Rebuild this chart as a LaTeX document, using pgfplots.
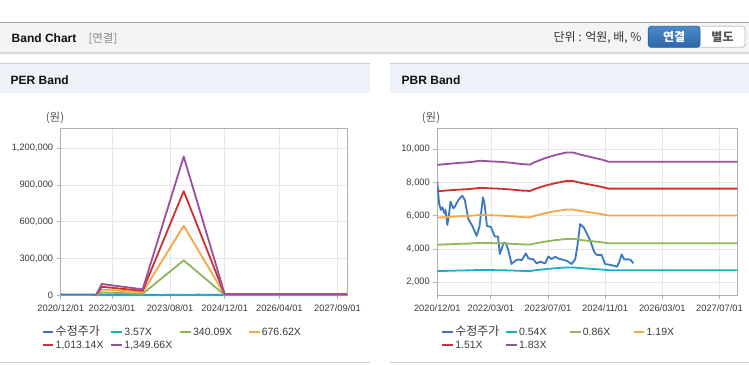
\documentclass[border=0pt]{standalone}
\usepackage{pgfplots}
\pgfplotsset{compat=1.18}
\usepackage{pgfplotstable}
\usepackage{fontspec}
\setmainfont{Liberation Sans}
\newfontfamily\kr{Noto Sans CJK KR}
\definecolor{cPrice}{HTML}{3A78C6}
\definecolor{cA}{HTML}{1CB0C8}
\definecolor{cB}{HTML}{8FB657}
\definecolor{cC}{HTML}{F2A843}
\definecolor{cD}{HTML}{CE3030}
\definecolor{cE}{HTML}{9A509E}
\definecolor{axisgray}{HTML}{B0B0B0}
\definecolor{gridgray}{HTML}{E6E6E6}
\definecolor{labelgray}{HTML}{3A3A3A}
\definecolor{headbg}{HTML}{F4F4F4}
\definecolor{titlebg}{HTML}{EEF2F8}
\definecolor{linegray}{HTML}{CFCFCF}
\definecolor{topline}{HTML}{A8A8A8}
\definecolor{btnTop}{HTML}{4D8AC8}
\definecolor{btnBot}{HTML}{2C68AA}
\definecolor{btnBorder}{HTML}{2A5F9C}
\definecolor{shadeA}{HTML}{F2F2F2}
\definecolor{shadeB}{HTML}{E6E6E6}
\definecolor{shadeC}{HTML}{D0D0D0}
\definecolor{dark}{HTML}{111111}
\definecolor{midgray}{HTML}{888888}
\definecolor{txtgray}{HTML}{333333}
\definecolor{btngray}{HTML}{C0C0C0}
\definecolor{btntext}{HTML}{555555}

\pgfplotstableread{
m v
0 8055
0.5 6750
1 6350
1.4 6510
2 6150
2.3 6350
2.8 5450
3.2 5950
3.7 6850
4.5 6450
4.9 6550
5.9 6950
7.0 7210
7.7 6950
8.7 5800
9.8 5400
11.0 4790
11.8 5350
12.8 7110
13.2 6750
13.9 5390
15.0 5330
16.1 4750
17.0 4750
17.5 3700
18.6 4380
19.2 4350
19.9 3920
20.8 3100
21.8 3300
22.7 3380
23.6 3320
24.8 3740
25.5 3440
26.9 3380
27.8 3140
28.8 3240
30.2 3140
31.1 3560
32.0 3400
33.0 3540
34.0 3420
34.8 3380
36.2 3300
37.6 3100
38.6 3380
39.2 4150
40.0 5500
41.0 5300
42.7 4580
43.9 3850
44.6 3650
46.0 3650
47.0 3100
48.6 3040
50.3 2940
51.0 3240
51.6 3680
52.3 3380
53.5 3380
54.2 3340
54.9 3140
}\pricetable

\pgfplotstableread{
m ca cb cc cd ce
10.5 26 2520 5014 7507 10000
12 245 23300 46350 69400 92450
24 130 12345 24560 36780 49000
36 2994 285200 567500 849700 1132000
48 26 2520 5014 7507 10000
83.8 26 2520 5014 7507 10000
}\perbands

\pgfplotstableread{
m ca cb cc cd ce
0 2674 4258 5892 7476 9060
3 2691 4286 5931 7526 9120
6 2709 4314 5969 7574 9180
9 2721 4333 5995 7607 9220
12 2747 4375 6054 7681 9310
15 2736 4357 6029 7650 9270
18 2726 4342 6008 7624 9240
21 2709 4314 5969 7574 9180
24 2685 4277 5918 7509 9100
26 2679 4267 5905 7493 9080
27 2715 4323 5982 7591 9200
30 2789 4441 6145 7798 9450
33 2847 4535 6275 7962 9650
36 2892 4605 6372 8086 9800
38 2895 4610 6380 8095 9810
40 2857 4549 6295 7988 9680
43 2812 4479 6198 7864 9530
46 2768 4408 6100 7740 9380
48 2730 4347 6015 7633 9250
84 2730 4347 6015 7633 9250
}\pbrbands

\pgfplotsset{
  band/.style={
    scale only axis, anchor=south west, height=167pt,
    axis line style={draw=axisgray, line width=0.8pt},
    grid=major, grid style={draw=gridgray, line width=0.6pt},
    major tick style={draw=axisgray, line width=0.8pt},
    tick align=outside, major tick length=4pt, tick pos=left,
    ticklabel style={font=\fontsize{9.3}{11}\selectfont, text=labelgray},
    xticklabel style={yshift=-1.5pt},
    /pgf/number format/assume math mode=true,
    /pgf/number format/fixed, /pgf/number format/1000 sep={,},
    scaled y ticks=false,
    xmin=0,
    every axis plot/.append style={line width=1.8pt, line join=round, no markers},
    legend columns=4,
    legend cell align=left,
    legend image code/.code={\draw[##1, line width=2pt] (0pt,0pt) -- (10.7pt,0pt);},
    legend style={draw=none, fill=none, inner sep=0pt, outer sep=0pt, anchor=north west,
      font=\fontsize{10.5}{12}\selectfont,
      cells={anchor=west},
      nodes={inner sep=0pt, text height=9pt, text depth=2pt, text=labelgray},
      row sep=2.3pt,
      /tikz/every odd column/.append style={column sep=1.3pt},
      /tikz/every even column/.append style={column sep=0pt}},
  }
}

\begin{document}
\begin{tikzpicture}
\begin{scope}[x=1pt,y=1pt]
\path[use as bounding box] (0,0) rectangle (749,364);
\fill[white] (0,0) rectangle (749,364);
% header bar
\fill[headbg] (0,311.3) rectangle (749,341.7);
\draw[topline, line width=1pt] (0,341.7) -- (749,341.7);
\draw[shadeA, line width=1pt] (0,309.3) -- (749,309.3);
\draw[shadeB, line width=1pt] (0,310.3) -- (749,310.3);
\draw[shadeC, line width=0.8pt] (0,311.3) -- (749,311.3);
\node[anchor=west, inner sep=0pt, font=\bfseries\fontsize{12}{14}\selectfont, text=dark] at (11.5,325.7) {Band Chart};
\node[anchor=west, inner sep=0pt, font=\kr\fontsize{11.5}{13}\selectfont, text=midgray] at (88.3,325.7) {[연결]};
\node[anchor=east, inner sep=0pt, font=\kr\fontsize{12}{14}\selectfont, text=txtgray] at (641.7,326.2) {단위 : 억원, 배, \%};
% buttons
\draw[fill=white, draw=btngray, line width=0.8pt, rounded corners=3pt] (690,316.7) rectangle (745,337.7);
\shade[top color=btnTop, bottom color=btnBot, draw=btnBorder, line width=0.8pt, rounded corners=3pt] (648.3,316.7) rectangle (700,337.7);
\node[inner sep=0pt, font=\kr\bfseries\fontsize{12}{14}\selectfont, text=white] at (674.2,327.2) {연결};
\node[inner sep=0pt, font=\kr\bfseries\fontsize{12}{14}\selectfont, text=btntext] at (722.5,327.2) {별도};
% panels
\fill[titlebg] (0,271.3) rectangle (370,300.7);
\fill[titlebg] (390,271.3) rectangle (749,300.7);
\draw[linegray, line width=1pt] (0,300.7) -- (370,300.7);
\draw[linegray, line width=1pt] (390,300.7) -- (749,300.7);
\draw[linegray, line width=1pt] (0,1.3) -- (370,1.3);
\draw[linegray, line width=1pt] (390,1.3) -- (749,1.3);
\node[anchor=west, inner sep=0pt, font=\bfseries\fontsize{12}{14}\selectfont, text=dark] at (10.5,283.3) {PER Band};
\node[anchor=west, inner sep=0pt, font=\bfseries\fontsize{12}{14}\selectfont, text=dark] at (401.5,283.3) {PBR Band};
\node[inner sep=0pt, font=\kr\fontsize{11.5}{13}\selectfont, text=btntext] at (55,245.7) {(원)};
\node[inner sep=0pt, font=\kr\fontsize{11.5}{13}\selectfont, text=btntext] at (431,245.7) {(원)};
\end{scope}

% PER axis
\begin{axis}[band, at={(60.7pt,68.7pt)}, width=286.3pt, xmax=83.8, ymin=0, ymax=1363000,
  xtick={0,15,32,48,64,81},
  xticklabels={2020/12/01,2022/03/01,2023/08/01,2024/12/01,2026/04/01,2027/09/01},
  ytick={0,300000,600000,900000,1200000},
  legend style={at={(-0.0663,-0.185)}},
  clip=false]
\addplot[cPrice] table[x=m,y=v]{\pricetable};
\addlegendentry{\makebox[54.7pt][l]{\kr\fontsize{12}{12}\selectfont 수정주가}}
\addplot[cA] table[x=m,y=ca]{\perbands};
\addlegendentry{\makebox[54.7pt][l]{3.57X}}
\addplot[cB] table[x=m,y=cb]{\perbands};
\addlegendentry{\makebox[54.7pt][l]{340.09X}}
\addplot[cC] table[x=m,y=cc]{\perbands};
\addlegendentry{\makebox[54.7pt][l]{676.62X}}
\addplot[cD] table[x=m,y=cd]{\perbands};
\addlegendentry{\makebox[54.7pt][l]{1,013.14X}}
\addplot[cE] table[x=m,y=ce]{\perbands};
\addlegendentry{\makebox[54.7pt][l]{1,349.66X}}
\end{axis}

% PBR axis
\begin{axis}[band, at={(437.3pt,68.7pt)}, width=300pt, xmax=84, ymin=1220, ymax=11260,
  xtick={0,15,31,47,63,79},
  xticklabels={2020/12/01,2022/03/01,2023/07/01,2024/11/01,2026/03/01,2027/07/01},
  ytick={2000,4000,6000,8000,10000},
  legend style={at={(0.0133,-0.185)}}]
\addplot[cPrice] table[x=m,y=v]{\pricetable};
\addlegendentry{\makebox[49.8pt][l]{\kr\fontsize{12}{12}\selectfont 수정주가}}
\addplot[cA] table[x=m,y=ca]{\pbrbands};
\addlegendentry{\makebox[49.8pt][l]{0.54X}}
\addplot[cB] table[x=m,y=cb]{\pbrbands};
\addlegendentry{\makebox[49.8pt][l]{0.86X}}
\addplot[cC] table[x=m,y=cc]{\pbrbands};
\addlegendentry{\makebox[49.8pt][l]{1.19X}}
\addplot[cD] table[x=m,y=cd]{\pbrbands};
\addlegendentry{\makebox[49.8pt][l]{1.51X}}
\addplot[cE] table[x=m,y=ce]{\pbrbands};
\addlegendentry{\makebox[49.8pt][l]{1.83X}}
\end{axis}
\end{tikzpicture}
\end{document}
